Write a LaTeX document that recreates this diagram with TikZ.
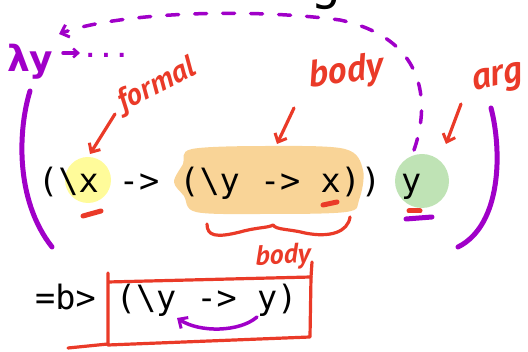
\documentclass[tikz,border=0pt]{standalone}
\usepackage{fontspec}
\setmonofont{DejaVu Sans Mono}
\newfontfamily\hand{PT Sans}
\newfontfamily\greekhand{DejaVu Sans}
\usetikzlibrary{arrows.meta}
\definecolor{redink}{HTML}{EA3A28}
\definecolor{purpink}{HTML}{A000C8}
\definecolor{hlyellow}{HTML}{FFFB9A}
\definecolor{hlorange}{HTML}{F9D497}
\definecolor{hlgreen}{HTML}{BFE3B5}
\tikzset{
  code/.style={font=\ttfamily\fontsize{33.5}{40}\selectfont, inner sep=0pt, anchor=base west},
  redpen/.style={draw=redink, line width=3.2pt, line cap=round, line join=round},
  redmark/.style={draw=redink, line width=5pt, line cap=round},
  purppen/.style={draw=purpink, line width=3.5pt, line cap=round, line join=round},
  purpthick/.style={draw=purpink, line width=5pt, line cap=round},
  redword/.style={text=redink, inner sep=0pt, font=\hand\bfseries\itshape\fontsize{#1}{#1}\selectfont},
  barb/.style={-{Straight Barb[length=7pt,width=13pt,line width=3pt]}}
}
\begin{document}
\begin{tikzpicture}[x=1pt,y=-1pt]
\useasboundingbox (0,0) rectangle (528,352);

% partly visible title letter at the top edge
\node[font=\ttfamily\fontsize{52}{52}\selectfont, inner sep=0pt, anchor=base] (title) at (326,-1) {g};

% highlights
\fill[hlorange] plot[smooth cycle, tension=0.55] coordinates {(192,149) (270,146) (345,149) (363,170) (359,200) (346,212) (262,214) (196,212) (184,196) (174,182) (183,164)};
\node[circle, fill=hlyellow, minimum size=46pt, inner sep=0pt] (fx) at (88,180) {};
\node[circle, fill=hlgreen, minimum size=54pt, inner sep=0pt] (ay) at (422,181) {};

% code lines
\node[code] (line1) at (38,193) {(\textbackslash x -> (\textbackslash y -> x)) y};
\node[code] (line2) at (35,310) {=b> (\textbackslash y -> y)};

% red labels
\node[redword=31, rotate=27] (formalw) at (157,86) {formal};
\node[redword=38, rotate=8] (bodyw) at (346,73) {body};
\node[redword=38, rotate=12] (argw) at (498,80) {arg};
\node[redword=28, rotate=3] (bodyw2) at (283,257) {body};

% red arrows
\coordinate (fa) at (115,114); \coordinate (fb) at (90,154);
\coordinate (ba) at (294,108); \coordinate (bb) at (277,144);
\coordinate (aa) at (461,104); \coordinate (ab) at (446,144);
\draw[redpen, barb] (fa) -- (fb);
\draw[redpen, barb] (ba) -- (bb);
\draw[redpen, barb] (aa) -- (ab);

% red underline marks
\draw[redmark] (83,216) -- (101,211);
\draw[redmark] (323,205) -- (337,202);
\draw[redmark] (409,211) -- (420,211);

% red brace under body
\draw[redpen] (207,224) .. controls (207,236) and (216,238) .. (240,232)
  .. controls (258,227) and (268,228) .. (273,225)
  .. controls (276,230) and (290,229) .. (305,233)
  .. controls (330,238) and (348,232) .. (350,217);

% red box round the result
\draw[redpen] (68,348) -- (108,344);
\draw[redpen] (108,273) -- (108,345) -- (310,337) -- (311,277) -- (108,282);
\draw[redpen] (311,277) -- (312,262);

% purple parentheses
\draw[purpthick] (30,91) .. controls (18,130) and (15,200) .. (52,247);
\draw[purpthick] (491,108) .. controls (502,150) and (502,225) .. (458,247);
\draw[purpthick] (406,219) -- (432,217);

% purple dashed curve from arg to lambda
\coordinate (da) at (414,150);
\coordinate (dm) at (340,20);
\coordinate (db) at (59,34);
\draw[purppen, dash pattern=on 12pt off 16pt, barb] (da) .. controls (428,110) and (432,40) .. (dm)
  .. controls (250,8) and (120,12) .. (db);

% lambda y ->
\node[text=purpink, inner sep=0pt, anchor=base west, font=\greekhand\bfseries\fontsize{36}{36}\selectfont] (lam) at (7,72) {λy};
\coordinate (la) at (63,53); \coordinate (lb) at (80,53);
\draw[purppen, -{Straight Barb[length=5pt,width=9pt,line width=2.5pt]}] (la) -- (lb);
\node[text=purpink, inner sep=0pt, font=\greekhand\bfseries\fontsize{22}{22}\selectfont] (dots) at (106,55) {.\,\,.\,\,.};

% purple arrow y -> \y in the result
\coordinate (pa) at (257,317); \coordinate (pb) at (177,318);
\draw[purppen, barb] (pa) .. controls (240,332) and (200,333) .. (pb);
\end{tikzpicture}
\end{document}
